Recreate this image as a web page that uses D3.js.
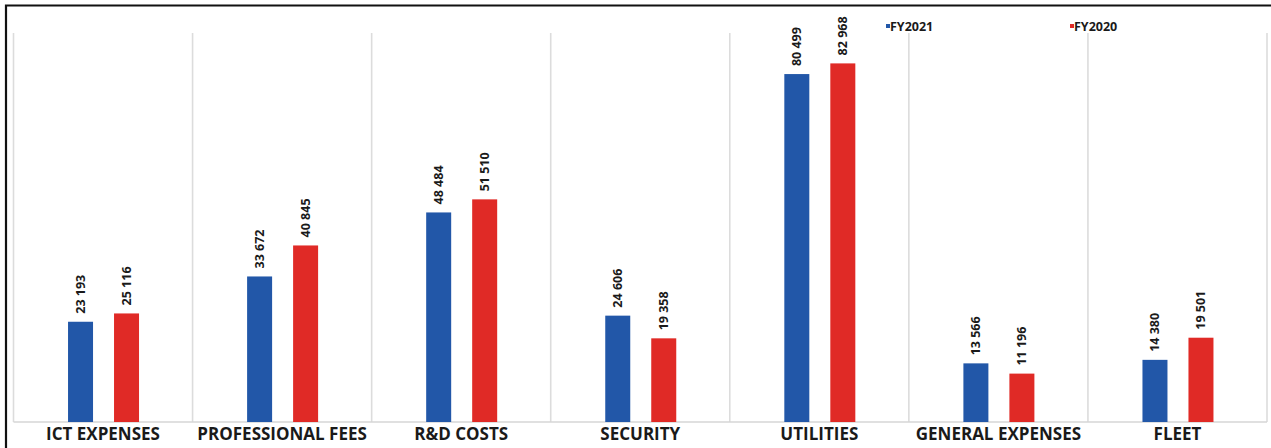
<!DOCTYPE html>
<html><head><meta charset="utf-8">
<script src="https://cdn.jsdelivr.net/npm/d3@7"></script>
<style>body{margin:0;background:#fff}svg{display:block}</style>
</head><body>
<script>
const categories = ["ICT EXPENSES","PROFESSIONAL FEES","R&D COSTS","SECURITY","UTILITIES","GENERAL EXPENSES","FLEET"];
const fy2021 = [23193,33672,48484,24606,80499,13566,14380];
const fy2020 = [25116,40845,51510,19358,82968,11196,19501];
const seriesNames = ["FY2021","FY2020"];
const colors = ["#2257a8","#e02a26"];
const yMax = 90000;

(function(){
const W=1271,H=448;
const svg=d3.select("body").append("svg").attr("width",W).attr("height",H);
svg.append("rect").attr("width",W).attr("height",H).attr("fill","#fff");
svg.append("path").attr("d",`M6,${H} V5.5 H${W}`).attr("fill","none").attr("stroke","#111").attr("stroke-width",2.2);

const pLeft=13.5,pRight=1267,pTop=33,pBase=422;
const x=d3.scaleBand().domain(categories).range([pLeft,pRight]);
const y=d3.scaleLinear().domain([0,yMax]).range([pBase,pTop]);
const font="'Open Sans', sans-serif";

const bounds=categories.map(c=>x(c)).concat([pRight]);
svg.append("g").selectAll("line").data(bounds).join("line")
  .attr("x1",d=>d).attr("x2",d=>d).attr("y1",pTop).attr("y2",pBase)
  .attr("stroke","#dcdcdc").attr("stroke-width",1.6);
svg.append("line").attr("x1",pLeft).attr("x2",pRight).attr("y1",pBase).attr("y2",pBase)
  .attr("stroke","#d6d6d6").attr("stroke-width",1.6);

const barW=25, off=23;
const series=[fy2021,fy2020];
series.forEach((vals,si)=>{
  const dx = si===0?-off:off;
  const g=svg.append("g");
  g.selectAll("rect").data(vals).join("rect")
    .attr("x",(d,i)=>x(categories[i])+x.bandwidth()/2+dx-barW/2+0.5)
    .attr("y",d=>y(d)).attr("width",barW).attr("height",d=>pBase-y(d))
    .attr("fill",colors[si]);
  g.selectAll("text").data(vals).join("text")
    .attr("transform",(d,i)=>`translate(${x(categories[i])+x.bandwidth()/2+dx+5},${y(d)-8}) rotate(-90)`)
    .attr("font-family",font).attr("font-weight",700).attr("font-size",12.5).attr("fill","#1a1a1a")
    .text(d=>d3.format(",")(d).replace(/,/g," "));
});

svg.append("g").selectAll("text").data(categories).join("text")
  .attr("x",c=>x(c)+x.bandwidth()/2).attr("y",439.5)
  .attr("text-anchor","middle").attr("font-family",font).attr("font-weight",700)
  .attr("font-size",17).attr("fill","#1a1a1a").attr("letter-spacing",0).text(c=>c);

const legX=[886,1070];
seriesNames.forEach((n,i)=>{
  svg.append("rect").attr("x",legX[i]).attr("y",24).attr("width",4).attr("height",4).attr("fill",colors[i]);
  svg.append("text").attr("x",legX[i]+4).attr("y",31).attr("font-family",font).attr("font-weight",700)
    .attr("font-size",12.5).attr("fill","#1a1a1a").text(n);
});
})();
</script>
</body></html>
